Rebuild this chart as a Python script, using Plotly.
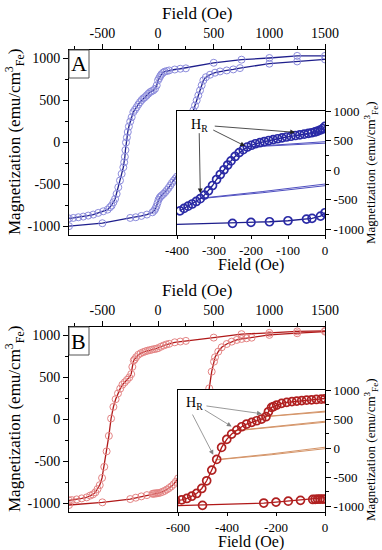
import plotly.graph_objects as go

# ---------------- Panel A data ----------------
a_desc_x = [1500, 1250, 1000, 750, 500, 250, 200, 150, 100, 80, 60, 45, 30, 20, 10, 0, -12, -27, -42, -57, -72,
            -87, -102, -117, -132, -147, -162, -177, -192, -207, -222, -237, -250, -262, -272, -280, -288, -293,
            -298, -304, -312, -327, -342, -357, -372, -386, -401, -417, -432, -453, -492, -537, -582, -627, -672,
            -716, -761, -800]
a_desc_m = [1030, 1030, 1005, 985, 948, 882, 877, 868, 857, 850, 843, 830, 810, 790, 765, 740, 679, 639, 620, 610, 599,
            580, 560, 540, 525, 505, 480, 452, 420, 390, 361, 301, 250, 190, 125, 60, 0, -90,
            -170, -235, -295, -373, -452, -532, -611, -671, -711, -750, -770, -798, -818, -837, -857, -869, -881,
            -889, -897, -903]

a_asc_x = [-800, -500, -250, -200, -150, -100, -50, -35, -25, -15, -5, 5, 15, 25, 35, 50, 65, 80, 95, 110, 125, 140,
           155, 170, 200, 230, 260, 290, 317, 332, 347, 362, 377, 392, 407, 430, 467, 512, 557, 617, 676, 736, 1000,
           1250, 1500]
a_asc_m = [-995, -960, -897, -889, -873, -857, -830, -810, -790, -760, -720, -680, -655, -640, -628, -610, -590, -565,
           -540, -510, -480, -455, -430, -405, -330, -200, -20, 180, 381, 440, 500, 560, 619, 679, 738, 777, 806, 830,
           845, 857, 869, 885, 937, 964, 988]

ia_desc_x = [-392, -381, -370, -359, -348, -337, -326, -315, -304, -293, -283, -273, -263, -254, -243, -232, -221,
             -210, -199, -188, -176, -164, -152, -140, -128, -116, -104, -92, -80, -68, -56, -45, -36, -27, -20,
             -13, -6, 0]
ia_desc_m = [-690, -650, -612, -575, -532, -485, -425, -350, -262, -160, -75, 5, 85, 155, 230, 295, 345,
             390, 420, 445, 463, 483, 500, 515, 530, 545, 560, 572, 585, 597, 608, 620, 632, 645, 658,
             678, 700, 740]
ia_asc_x = [-500, -250, -200, -150, -100, -50, -35, -12, 0]
ia_asc_m = [-940, -903, -886, -876, -859, -830, -818, -780, -723]

a_forc = [
    ([-338, -170, 0], [-478, -365, -237]),
    ([-338, -170, 0], [-484, -385, -265]),
    ([-205, -100, 0], [395, 440, 480]),
    ([-205, -100, 0], [392, 428, 455]),
    ([-75, -35, 0], [590, 615, 662]),
    ([-75, -35, 0], [588, 605, 632]),
]

# ---------------- Panel B data ----------------
b_desc_x = [1500, 1250, 1000, 750, 500, 250, 200, 150, 100, 75, 50, 25, 0, -15, -35, -55, -75, -95, -115, -135,
            -156, -177, -197, -210, -218, -231, -241, -259, -279, -299, -320, -340, -360, -381, -401, -422, -442,
            -462, -483, -503, -524, -544, -564, -585, -610, -641, -686, -731, -776, -800]
b_desc_m = [1055, 1048, 1030, 1015, 974, 935, 927, 918, 900, 892, 880, 865, 848, 842, 837, 831, 825, 818, 810, 800,
            788, 770, 741, 715, 702, 626, 540, 500, 471, 443, 414, 367, 310, 241, 150, 12, -195,
            -379, -563, -695, -781, -828, -867, -891, -905, -926, -938, -950, -958, -962]

b_asc_x = [-800, -500, -250, -200, -150, -100, -50, -40, -30, -20, -10, 0, 20, 40, 60, 80, 100, 120, 140, 160, 180,
           250, 350, 420, 445, 460, 482, 503, 512, 541, 572, 617, 662, 707, 751, 796, 841, 1000, 1250, 1500]
b_asc_m = [-1017, -985, -946, -930, -914, -899, -884, -882, -880, -879, -878, -876, -870, -860, -848, -832, -815,
           -795, -770, -740, -700, -620, -450, -150, 100, 371, 569, 688, 740, 807, 859, 898, 926, 946, 958, 966,
           973, 1006, 1026, 1045]

b_forc = [
    ([-447, -220, 0], [-200, -100, 15]),
    ([-447, -220, 0], [-204, -115, -10]),
    ([-370, -180, 0], [300, 385, 462]),
    ([-370, -180, 0], [296, 372, 445]),
    ([-240, -120, 0], [545, 590, 636]),
    ([-240, -120, 0], [542, 580, 622]),
]

main_yticks = [-1000, -500, 0, 500, 1000]
main_yticktext = ["-1000", "-500", "0", "500", "1000"]
main_xticks = [-500, 0, 500, 1000, 1500]
main_xticktext = ["-500", "0", "500", "1000", "1500"]
ia_xticks = [-400, -300, -200, -100, 0]
ia_xticktext = ["-400", "-300", "-200", "-100", "0"]
ib_xticks = [-600, -400, -200, 0]
ib_xticktext = ["-600", "-400", "-200", "0"]

SERIF = "Liberation Serif"
W, H = 382, 550

def px(x):
    return x / W

def py(y):
    return 1 - y / H

fig = go.Figure()

def loop_trace(x, m, xa, ya, mcol, lcol, size, mw):
    return go.Scatter(x=x, y=m, xaxis=xa, yaxis=ya, mode="lines+markers",
                      line=dict(color=lcol, width=1.3),
                      marker=dict(symbol="circle-open", size=size, color=mcol, line=dict(width=mw, color=mcol)),
                      showlegend=False, hoverinfo="skip")

# Panel A
fig.add_trace(loop_trace(a_desc_x, a_desc_m, "x", "y", "#8c8cdc", "#1e1e8c", 7, 1))
fig.add_trace(loop_trace(a_asc_x, a_asc_m, "x", "y", "#8c8cdc", "#1e1e8c", 7, 1))
for fx, fm in a_forc:
    fig.add_trace(go.Scatter(x=fx, y=fm, xaxis="x2", yaxis="y2", mode="lines",
                             line=dict(color="#5050c0", width=1), showlegend=False, hoverinfo="skip"))
fig.add_trace(loop_trace(ia_desc_x, ia_desc_m, "x2", "y2", "#2a2aa6", "#1e1e8c", 8, 1.7))
fig.add_trace(loop_trace(ia_asc_x, ia_asc_m, "x2", "y2", "#2a2aa6", "#1e1e8c", 8, 1.7))

# Panel B
fig.add_trace(loop_trace(b_desc_x, b_desc_m, "x3", "y3", "#e48484", "#b01818", 7, 1))
fig.add_trace(loop_trace(b_asc_x, b_asc_m, "x3", "y3", "#e48484", "#b01818", 7, 1))
for fx, fm in b_forc:
    fig.add_trace(go.Scatter(x=fx, y=fm, xaxis="x4", yaxis="y4", mode="lines",
                             line=dict(color="#d49468", width=1), showlegend=False, hoverinfo="skip"))
fig.add_trace(loop_trace(b_desc_x, b_desc_m, "x4", "y4", "#b02020", "#b01818", 8, 1.7))
fig.add_trace(loop_trace(b_asc_x, b_asc_m, "x4", "y4", "#b02020", "#b01818", 8, 1.7))

tickfont_main = dict(family=SERIF, size=14, color="black")
common = dict(showline=True, linecolor="black", linewidth=1, mirror=True, ticks="outside",
              ticklen=5, tickcolor="black", showgrid=False, zeroline=False, tickmode="array",
              automargin=False)

xmain_dom = [px(69), px(325)]
A_main = [py(235), py(50)]
A_ins = [py(235), py(111)]
B_main = [py(512), py(327)]
B_ins = [py(512), py(390)]

def main_axes(xa, ya, dom_y):
    fig.update_layout(**{
        xa: dict(domain=xmain_dom, anchor=ya.replace("axis", ""), side="top", range=[-800, 1500],
                 tickvals=main_xticks, ticktext=main_xticktext,
                 tickfont=dict(family=SERIF, size=14, color="black"),
                 minor=dict(tickvals=[-750, -250, 250, 750, 1250], ticks="outside", ticklen=3, tickcolor="black"),
                 **common),
        ya: dict(domain=dom_y, anchor=xa.replace("axis", ""), range=[-1100, 1100],
                 tickvals=main_yticks, ticktext=main_yticktext, tickfont=tickfont_main,
                 minor=dict(tickvals=[-750, -250, 250, 750], ticks="outside", ticklen=3, tickcolor="black"),
                 **common),
    })

def inset_axes(xa, ya, dom_x, dom_y, xr, xt, xtt):
    cx = dict(common)
    cx["ticklen"] = 3
    fig.update_layout(**{
        xa: dict(domain=dom_x, anchor=ya.replace("axis", ""), side="bottom", range=xr,
                 tickvals=xt, ticktext=xtt, tickfont=dict(family=SERIF, size=13, color="black"), **cx),
        ya: dict(domain=dom_y, anchor=xa.replace("axis", ""), side="right", range=[-1100, 1000],
                 tickvals=main_yticks, ticktext=main_yticktext,
                 tickfont=dict(family=SERIF, size=13, color="black"),
                 minor=dict(tickvals=[-750, -250, 250, 750], ticks="outside", ticklen=3, tickcolor="black"),
                 **common),
    })

main_axes("xaxis", "yaxis", A_main)
inset_axes("xaxis2", "yaxis2", [px(177), px(325)], A_ins, [-400, 0], ia_xticks, ia_xticktext)
main_axes("xaxis3", "yaxis3", B_main)
inset_axes("xaxis4", "yaxis4", [px(178), px(325)], B_ins, [-600, 0], ib_xticks, ib_xticktext)

ann = []
def text(x, y, t, size, angle=0):
    ann.append(dict(x=x, y=y, xref="paper", yref="paper", text=t, showarrow=False,
                    font=dict(family=SERIF, size=size, color="black"), textangle=angle,
                    xanchor="center", yanchor="middle"))

mag = "Magnetization (emu/cm<sup>3</sup><sub>Fe</sub>)"
for off in (0, 277):
    text(px(197), py(13 + off), "Field (Oe)", 17)
    text(px(14), py(142 + off), mag, 17, -90)
    text(px(371), py(173 + off), mag, 13, -90)
    text(px(251), py(264.5 + off), "Field (Oe)", 16)
text(px(79), py(64), "A", 22)
text(px(78), py(341), "B", 22)

def arrows(xr, yr, label_xy, items, col):
    ann.append(dict(x=label_xy[0], y=label_xy[1], xref=xr, yref=yr, text="H<sub>R</sub>", showarrow=False,
                    font=dict(family=SERIF, size=14, color="black"), xanchor="center", yanchor="middle"))
    for (tx, ty), (hx, hy) in items:
        ann.append(dict(x=hx, y=hy, ax=tx, ay=ty, xref=xr, yref=yr, axref=xr, ayref=yr, text="",
                        showarrow=True, arrowhead=2, arrowsize=1.2, arrowwidth=0.8, arrowcolor=col,
                        standoff=0, startstandoff=0))

arrows("x2", "y2", (-338, 746),
       [((-302, 746), (-81, 639)), ((-306, 690), (-216, 407)), ((-340, 650), (-337, -395))], "#222222")
arrows("x4", "y4", (-533, 764),
       [((-490, 729), (-258, 591)), ((-497, 672), (-381, 372)), ((-544, 603), (-456, -116))], "#808080")

shapes = [
    dict(type="rect", xref="paper", yref="paper", x0=px(69), x1=px(89), y0=py(78), y1=py(50),
         line=dict(color="#555555", width=1)),
    dict(type="rect", xref="paper", yref="paper", x0=px(69), x1=px(89), y0=py(355), y1=py(327),
         line=dict(color="#555555", width=1)),
]

fig.update_layout(width=W, height=H, margin=dict(l=0, r=0, t=0, b=0, autoexpand=False),
                  paper_bgcolor="white", plot_bgcolor="white", annotations=ann, shapes=shapes,
                  showlegend=False)

fig.write_html("out.html", config={"displayModeBar": False},
               post_script="document.body.style.margin='0';document.body.style.overflow='hidden';")
